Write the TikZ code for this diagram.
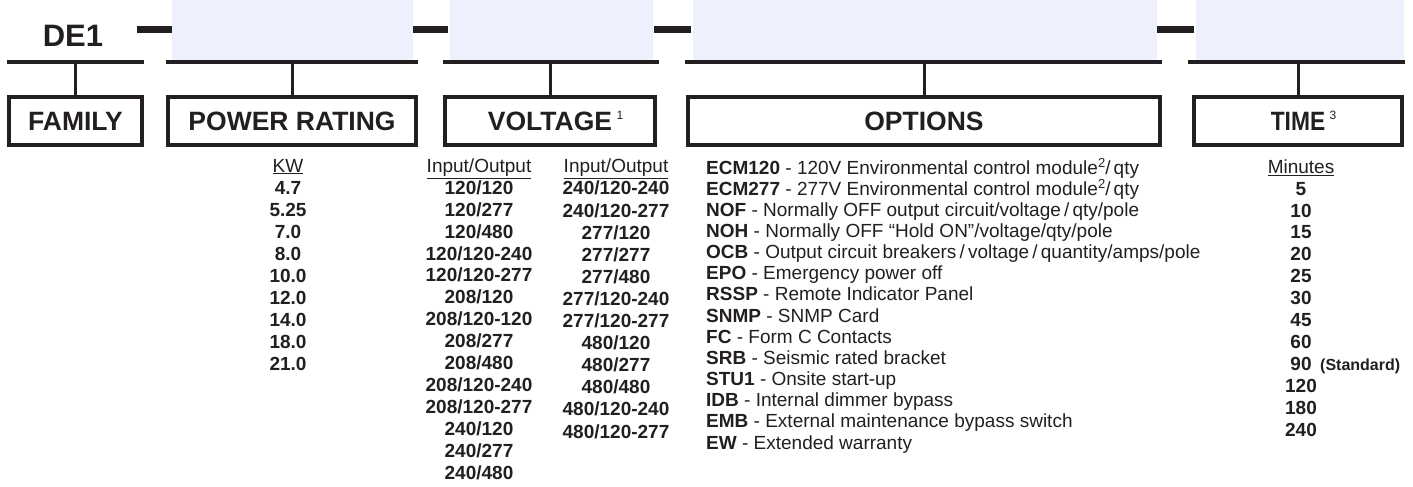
\documentclass[tikz,border=0pt]{standalone}
\usepackage{graphicx}
\usepackage{fontspec}
\setmainfont{Liberation Sans}
\usetikzlibrary{positioning}
\definecolor{fieldblue}{RGB}{238,241,253}
\definecolor{ink}{RGB}{35,31,32}
\newcommand\supmark[1]{\rlap{\,\raisebox{10.5pt}{\fontsize{12}{12}\selectfont\mdseries #1}}}
\newcommand\optsup[1]{\raisebox{7pt}{\fontsize{13}{13}\selectfont #1}}

\begin{document}
\begin{tikzpicture}[x=1pt,y=-1pt,
  head box/.style={draw=ink,line width=3.5pt,inner sep=0pt,minimum height=48pt,text=ink,font=\fontsize{26.5}{26.5}\selectfont\bfseries},
  slot line/.style={draw=ink,line width=3.5pt},
  stem/.style={draw=ink,line width=3pt},
  sep bar/.style={draw=ink,line width=7pt},
  value col/.style={align=center,anchor=base,inner sep=0pt,text=ink,font=\fontsize{19}{22}\selectfont\bfseries},
  option col/.style={align=left,anchor=base west,inner sep=0pt,text=ink,font=\fontsize{19}{21.15}\selectfont}]
  \useasboundingbox (0,0) rectangle (1413,487);

  % code fields
  \fill[fieldblue] (172,0) rectangle (413,60);
  \fill[fieldblue] (450,0) rectangle (653,60);
  \fill[fieldblue] (693,0) rectangle (1157,60);
  \fill[fieldblue] (1196,0) rectangle (1404,60);
  \node[inner sep=0pt,text=ink,font=\fontsize{31}{31}\selectfont\bfseries] (de) at (73,35.5) {DE1};
  \draw[sep bar] (137,29.5) -- (172,29.5);
  \draw[sep bar] (413,29.5) -- (448,29.5);
  \draw[sep bar] (654,29.5) -- (691,29.5);
  \draw[sep bar] (1157,29.5) -- (1194,29.5);

  % slots under the fields
  \draw[slot line] (7,62) -- (144,62);
  \draw[slot line] (166,62) -- (418,62);
  \draw[slot line] (443,62) -- (659,62);
  \draw[slot line] (685,62) -- (1162,62);
  \draw[slot line] (1188,62) -- (1405,62);
  \coordinate (family slot) at (75.5,62);
  \coordinate (power slot) at (292,62);
  \coordinate (voltage slot) at (550,62);
  \coordinate (options slot) at (924,62);
  \coordinate (time slot) at (1298,62);

  % headings
  \node[head box,minimum width=133pt] (family) at (75.5,121) {FAMILY};
  \node[head box,minimum width=248pt] (power) at (292,121) {POWER RATING};
  \node[head box,minimum width=210pt] (voltage) at (550,121) {VOLTAGE\supmark{1}};
  \node[head box,minimum width=472pt] (options) at (924,121) {OPTIONS};
  \node[head box,minimum width=208pt] (time) at (1298,121) {\scalebox{0.86}[1]{TIME}\supmark{3}};

  \draw[stem] (family slot) -- (family);
  \draw[stem] (power slot) -- (power);
  \draw[stem] (voltage slot) -- (voltage);
  \draw[stem] (options slot) -- (options);
  \draw[stem] (time slot) -- (time);

  % lists (placed by the baseline of their last line)
  \node[value col] (kw) at (288,370) {\textmd{\underline{KW}}\\4.7\\5.25\\7.0\\8.0\\10.0\\12.0\\14.0\\18.0\\21.0};
  \node[value col,font=\fontsize{19}{21.9}\selectfont\bfseries] (volt a) at (479,479) {\textmd{\underline{Input/Output}}\\120/120\\120/277\\120/480\\120/120-240\\120/120-277\\208/120\\208/120-120\\208/277\\208/480\\208/120-240\\208/120-277\\240/120\\240/277\\240/480};
  \node[value col,font=\fontsize{19}{22.1}\selectfont\bfseries] (volt b) at (616,438) {\textmd{\underline{Input/Output}}\\240/120-240\\240/120-277\\277/120\\277/277\\277/480\\277/120-240\\277/120-277\\480/120\\480/277\\480/480\\480/120-240\\480/120-277};
  \node[option col] (opt list) at (706,449) {\textbf{ECM120} - 120V Environmental control module\optsup{2}/\,qty\\
    \textbf{ECM277} - 277V Environmental control module\optsup{2}/\,qty\\
    \textbf{NOF} - Normally OFF output circuit/voltage\,/\,qty/pole\\
    \textbf{NOH} - Normally OFF “Hold ON”/voltage/qty/pole\\
    \textbf{OCB} - Output circuit breakers\,/\,voltage\,/\,quantity/amps/pole\\
    \textbf{EPO} - Emergency power off\\
    \textbf{RSSP} - Remote Indicator Panel\\
    \textbf{SNMP} - SNMP Card\\
    \textbf{FC} - Form C Contacts\\
    \textbf{SRB} - Seismic rated bracket\\
    \textbf{STU1} - Onsite start-up\\
    \textbf{IDB} - Internal dimmer bypass\\
    \textbf{EMB} - External maintenance bypass switch\\
    \textbf{EW} - Extended warranty};
  \node[value col,font=\fontsize{19}{21.9}\selectfont\bfseries] (minutes) at (1301,436) {\textmd{\underline{Minutes}}\\5\\10\\15\\20\\25\\30\\45\\60\\90\\120\\180\\240};
  \node[anchor=base west,inner sep=0pt,text=ink,font=\fontsize{16}{16}\selectfont\bfseries] (std) at (1320,370) {(Standard)};
\end{tikzpicture}
\end{document}
